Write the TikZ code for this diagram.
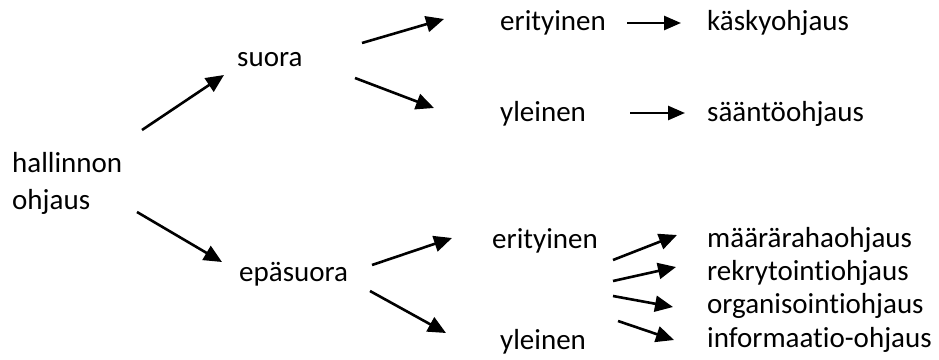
\documentclass[tikz,border=0pt]{standalone}
\usepackage{fontspec}
\setmainfont{Carlito}[RawFeature={-liga;-clig;-dlig}]
\usetikzlibrary{arrows.meta}
\tikzset{
  lbl/.style={anchor=base west, inner sep=0pt, font=\fontsize{29}{35}\selectfont},
  arr/.style={line width=2.6pt, -{Triangle[length=18pt,width=16pt]}},
  sarr/.style={line width=2.6pt, -{Triangle[length=17pt,width=14pt]}}
}
\begin{document}
\begin{tikzpicture}[x=1pt,y=-1pt]
  \useasboundingbox[fill=white] (0,0) rectangle (939,359);

  % labels
  \node[lbl] (hall)   at (12,172)  {hallinnon};
  \node[lbl] (ohj)    at (12,209)  {ohjaus};
  \node[lbl] (suora)  at (237,66)  {suora};
  \node[lbl] (epa)    at (239,281) {epäsuora};
  \node[lbl] (erit1)  at (500,30)  {erityinen};
  \node[lbl] (yl1)    at (500,121) {yleinen};
  \node[lbl] (kasky)  at (707,30)  {käskyohjaus};
  \node[lbl] (saanto) at (707,121) {sääntöohjaus};
  \node[lbl] (erit2)  at (492,248) {erityinen};
  \node[lbl] (yl2)    at (500,349) {yleinen};
  \node[lbl] (maara)  at (707,247) {määrärahaohjaus};
  \node[lbl] (rekry)  at (707,280) {rekrytointiohjaus};
  \node[lbl] (organ)  at (707,313) {organisointiohjaus};
  \node[lbl] (info)   at (707,347) {informaatio-ohjaus};

  % arrow end points
  \coordinate (a1s) at (142,130); \coordinate (a1e) at (224,75);
  \coordinate (a2s) at (137,212); \coordinate (a2e) at (222,262);
  \coordinate (b1s) at (362,43);  \coordinate (b1e) at (444,19);
  \coordinate (b2s) at (355,78);  \coordinate (b2e) at (434,108);
  \coordinate (c1s) at (627,23);  \coordinate (c1e) at (681,23);
  \coordinate (c2s) at (630,113); \coordinate (c2e) at (685,113);
  \coordinate (d1s) at (372,265); \coordinate (d1e) at (452,238);
  \coordinate (d2s) at (370,291); \coordinate (d2e) at (446,333);
  \coordinate (e1s) at (613,260); \coordinate (e1e) at (677,235);
  \coordinate (e2s) at (613,281); \coordinate (e2e) at (676,267);
  \coordinate (e3s) at (613,296); \coordinate (e3e) at (673,307);
  \coordinate (e4s) at (618,321); \coordinate (e4e) at (674,340);

  % connectors
  \draw[arr] (a1s) -- (a1e);
  \draw[arr] (a2s) -- (a2e);
  \draw[arr] (b1s) -- (b1e);
  \draw[arr] (b2s) -- (b2e);
  \draw[sarr] (c1s) -- (c1e);
  \draw[sarr] (c2s) -- (c2e);
  \draw[arr] (d1s) -- (d1e);
  \draw[arr] (d2s) -- (d2e);
  \draw[arr] (e1s) -- (e1e);
  \draw[arr] (e2s) -- (e2e);
  \draw[arr] (e3s) -- (e3e);
  \draw[arr] (e4s) -- (e4e);
\end{tikzpicture}
\end{document}
